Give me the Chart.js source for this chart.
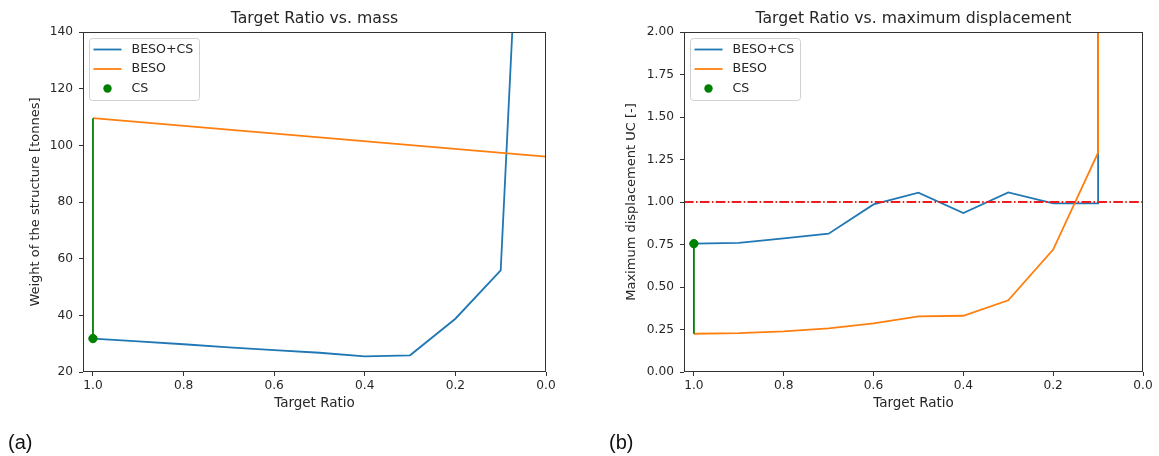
<!DOCTYPE html>
<html>
<head>
<meta charset="utf-8">
<script src="https://cdn.jsdelivr.net/npm/chart.js@4.4.1/dist/chart.umd.min.js"></script>
<style>
 body{margin:0;background:#fff;width:1159px;height:456px;position:relative;overflow:hidden}
 canvas{position:absolute;top:0}
 #massChart{left:0}
 #dispChart{left:580px}
 .tag{position:absolute;top:431px;font:20px "Liberation Sans",Arial,sans-serif;color:#111;line-height:22px}
</style>
</head>
<body>
<canvas id="massChart" width="580" height="456"></canvas>
<canvas id="dispChart" width="579" height="456"></canvas>
<div class="tag" style="left:8px">(a)</div>
<div class="tag" style="left:609px">(b)</div>
<script>
// Target ratio steps
const ratio = [1.0,0.9,0.8,0.7,0.6,0.5,0.4,0.3,0.2,0.1];

// (a) mass [tonnes]
const massBesoCsX = [1.0,0.9,0.8,0.7,0.6,0.5,0.4,0.3,0.2,0.1,0.0];
const massBesoCs  = [31.8,30.8,29.8,28.7,27.7,26.8,25.5,25.9,38.8,55.9,385];
const massBesoX   = [1.0,0.0];
const massBeso    = [109.6,96.0];
const massCsX     = [1.0];
const massCs      = [31.8];
const massCsLine  = [31.8,109.6];

// (b) max displacement UC [-]
const dispBesoCsX = [1.0,0.9,0.8,0.7,0.6,0.5,0.4,0.3,0.2,0.1,0.1];
const dispBesoCs  = [0.755,0.76,0.786,0.814,0.986,1.055,0.935,1.057,0.992,0.992,2.6];
const dispBesoX   = [1.0,0.9,0.8,0.7,0.6,0.5,0.4,0.3,0.2,0.1,0.1];
const dispBeso    = [0.225,0.229,0.239,0.257,0.286,0.327,0.331,0.422,0.72,1.29,2.6];
const dispCsX     = [1.0];
const dispCs      = [0.755];
const dispCsLine  = [0.755,0.225];
const dispLimit   = 1.0;

// ticks
const xTicks    = [1.0,0.8,0.6,0.4,0.2,0.0];
const massTicks = [20,40,60,80,100,120,140];
const dispTicks = [0,0.25,0.5,0.75,1.0,1.25,1.5,1.75,2.0];
const xMax = 1.022;

const BLUE = "#1f77b4", ORANGE = "#ff7f0e", GREEN = "#008000", RED = "#ee1c1c";

Chart.defaults.font.family = "'DejaVu Sans', sans-serif";
Chart.defaults.color = "#262626";

function pts(xs, ys){ return xs.map((x,i)=>({x:x,y:ys[i]})); }

// box round the plot, like the matplotlib spines
const frame = {
  id:'frame',
  afterDatasetsDraw(chart){
    const {ctx, chartArea:a} = chart;
    ctx.save();
    ctx.strokeStyle = "#333"; ctx.lineWidth = 1;
    ctx.strokeRect(Math.round(a.left)+0.5, Math.round(a.top)+0.5, Math.round(a.right-a.left)-1, Math.round(a.bottom-a.top)-1);
    ctx.restore();
  }
};

// legend inside the upper-left corner
const boxLegend = {
  id:'boxLegend',
  afterDraw(chart){
    const {ctx, chartArea:a} = chart;
    const items = chart.data.datasets.filter(d => d.label);
    const x0 = Math.round(a.left+6)+0.5, y0 = Math.round(a.top+6)+0.5;
    ctx.save();
    ctx.beginPath();
    ctx.roundRect(x0, y0, 110, 62, 3);
    ctx.fillStyle = "rgba(255,255,255,0.85)"; ctx.fill();
    ctx.strokeStyle = "#d0d0d0"; ctx.lineWidth = 1; ctx.stroke();
    ctx.font = "12.6px 'DejaVu Sans'";
    ctx.textBaseline = "middle";
    items.forEach((d,i)=>{
      const y = y0 + 11 + i*19.5;
      if (d.showLine === false){
        ctx.beginPath(); ctx.arc(x0+18, y, 4.2, 0, Math.PI*2);
        ctx.fillStyle = d.pointBackgroundColor; ctx.fill();
      } else {
        ctx.beginPath(); ctx.moveTo(x0+4, y); ctx.lineTo(x0+32, y);
        ctx.strokeStyle = d.borderColor; ctx.lineWidth = 1.8; ctx.stroke();
      }
      ctx.fillStyle = "#262626";
      ctx.fillText(d.label, x0+42, y);
    });
    ctx.restore();
  }
};

function makeChart(id, cfg){
  return new Chart(document.getElementById(id), {
    type:'line',
    data:{datasets:cfg.datasets},
    plugins:[frame, boxLegend],
    options:{
      responsive:false, animation:false, devicePixelRatio:1,
      layout:{padding:{left:0, right:cfg.padRight, top:0, bottom:44}},
      elements:{point:{radius:0}, line:{borderWidth:1.8, tension:0}},
      plugins:{
        legend:{display:false}, tooltip:{enabled:false},
        title:{display:true, text:cfg.title, fullSize:false, font:{size:15.7, weight:'normal'}, padding:{top:10, bottom:3.2}, color:"#262626"}
      },
      scales:{
        x:{type:'linear', reverse:true, min:0, max:xMax,
           afterFit:s=>{ s.height = 40; },
           afterBuildTicks:s=>{ s.ticks = xTicks.map(v=>({value:v})); },
           grid:{drawOnChartArea:false, tickLength:4, color:"#333"},
           border:{display:false},
           ticks:{font:{size:12.2}, padding:3, maxRotation:0, callback:v=>v.toFixed(1)},
           title:{display:true, text:"Target Ratio", font:{size:13.5}, padding:{top:0, bottom:0.9}}},
        y:{type:'linear', min:cfg.yMin, max:cfg.yMax,
           afterFit:s=>{ s.width = cfg.axisW; },
           afterBuildTicks:s=>{ s.ticks = cfg.yTicks.map(v=>({value:v})); },
           grid:{drawOnChartArea:false, tickLength:4, color:"#333"},
           border:{display:false},
           ticks:{font:{size:12.2}, padding:6, callback:cfg.yFmt},
           title:{display:true, text:cfg.yTitle, font:{size:13}, padding:{top:cfg.yTitlePad, bottom:0}}}
      }
    }
  });
}

document.addEventListener("DOMContentLoaded", ()=>{

// (a) mass
makeChart("massChart", {
  title:"Target Ratio vs. mass", padRight:34, axisW:83,
  yMin:20, yMax:140, yTicks:massTicks, yFmt:v=>String(v),
  yTitle:"Weight of the structure [tonnes]", yTitlePad:28.2,
  datasets:[
    {label:"BESO+CS", data:pts(massBesoCsX, massBesoCs), borderColor:BLUE, backgroundColor:BLUE, order:4},
    {label:"BESO", data:pts(massBesoX, massBeso), borderColor:ORANGE, backgroundColor:ORANGE, order:3},
    {label:"CS", data:pts(massCsX, massCs), showLine:false, pointRadius:4.2, pointBackgroundColor:GREEN, pointBorderColor:GREEN, order:0},
    {data:pts([1.0,1.0], massCsLine), borderColor:GREEN, order:2}
  ]
});

// (b) displacement
makeChart("dispChart", {
  title:"Target Ratio vs. maximum displacement", padRight:16, axisW:104,
  yMin:0, yMax:2, yTicks:dispTicks, yFmt:v=>v.toFixed(2),
  yTitle:"Maximum displacement UC [-]", yTitlePad:44.2,
  datasets:[
    {label:"BESO+CS", data:pts(dispBesoCsX, dispBesoCs), borderColor:BLUE, backgroundColor:BLUE, order:4},
    {label:"BESO", data:pts(dispBesoX, dispBeso), borderColor:ORANGE, backgroundColor:ORANGE, order:3},
    {label:"CS", data:pts(dispCsX, dispCs), showLine:false, pointRadius:4.2, pointBackgroundColor:GREEN, pointBorderColor:GREEN, order:0},
    {data:pts([1.0,1.0], dispCsLine), borderColor:GREEN, order:2},
    {data:pts([xMax,0], [dispLimit,dispLimit]), borderColor:RED, borderDash:[9.6,2.4,1.5,2.4], order:1}
  ]
});

});
</script>
</body>
</html>
